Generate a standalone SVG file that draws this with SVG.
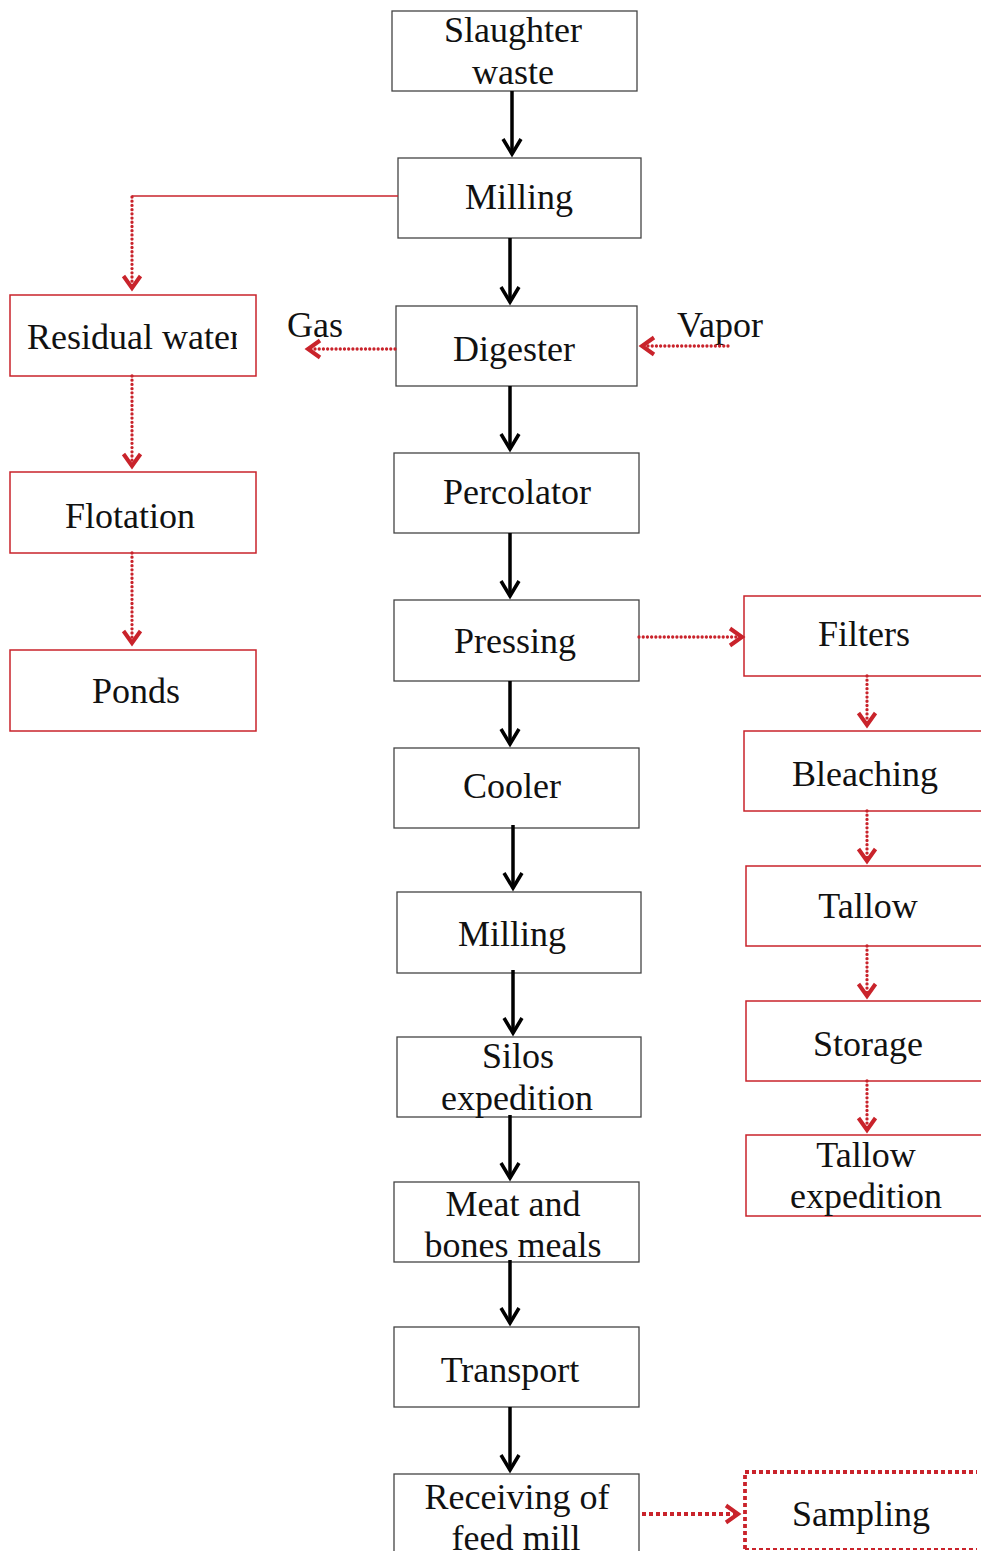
<svg xmlns="http://www.w3.org/2000/svg" width="981" height="1551" viewBox="0 0 981 1551">
<style>
.box{fill:#fff;stroke:#444;stroke-width:1.3}
.rbox{fill:#fff;stroke:#c9232b;stroke-width:1.5}
.t{font-family:"Liberation Serif","Times New Roman",serif;font-size:36px;fill:#111;text-anchor:middle}
.arr{stroke:#000;stroke-width:3.5;fill:none;marker-end:url(#ah)}
.rarr{stroke:#c9232b;stroke-width:3.3;stroke-dasharray:0.01 4.2;stroke-linecap:round;fill:none;marker-end:url(#rah)}
.rline{stroke:#c9232b;stroke-width:1.5;fill:none}
.sq{stroke:#c9232b;stroke-width:4;stroke-dasharray:4 3;fill:none}
</style>
<defs>
<marker id="ah" markerUnits="userSpaceOnUse" orient="auto" refX="0" refY="0" markerWidth="20" markerHeight="20" overflow="visible">
<path d="M-15,-9 L0,0 L-15,9" fill="none" stroke="#000" stroke-width="3.5"/>
</marker>
<marker id="rah" markerUnits="userSpaceOnUse" orient="auto" refX="0" refY="0" markerWidth="20" markerHeight="20" overflow="visible">
<path d="M-12,-8.5 L0,0 L-12,8.5" fill="none" stroke="#c9232b" stroke-width="4"/>
</marker>
<clipPath id="rwclip"><rect x="10" y="295" width="227" height="81"/></clipPath>
</defs>

<g id="n-slaughter"><rect class="box" x="392" y="11" width="245" height="80"/><text class="t" x="513" y="42">Slaughter</text><text class="t" x="513" y="84">waste</text></g>
<g id="n-milling1"><rect class="box" x="398" y="158" width="243" height="80"/><text class="t" x="519" y="209">Milling</text></g>
<g id="n-digester"><rect class="box" x="396" y="306" width="241" height="80"/><text class="t" x="514" y="361">Digester</text></g>
<g id="n-percolator"><rect class="box" x="394" y="453" width="245" height="80"/><text class="t" x="517" y="504">Percolator</text></g>
<g id="n-pressing"><rect class="box" x="394" y="600" width="245" height="81"/><text class="t" x="515" y="653">Pressing</text></g>
<g id="n-cooler"><rect class="box" x="394" y="748" width="245" height="80"/><text class="t" x="512" y="798">Cooler</text></g>
<g id="n-milling2"><rect class="box" x="397" y="892" width="244" height="81"/><text class="t" x="512" y="946">Milling</text></g>
<g id="n-silos"><rect class="box" x="397" y="1037" width="244" height="80"/><text class="t" x="518" y="1068">Silos</text><text class="t" x="517" y="1110">expedition</text></g>
<g id="n-meat"><rect class="box" x="394" y="1182" width="245" height="80"/><text class="t" x="513" y="1216">Meat and</text><text class="t" x="513" y="1257">bones meals</text></g>
<g id="n-transport"><rect class="box" x="394" y="1327" width="245" height="80"/><text class="t" x="510" y="1382">Transport</text></g>
<g id="n-receiving"><rect class="box" x="394" y="1474" width="245" height="90"/><text class="t" x="517" y="1509">Receiving of</text><text class="t" x="516" y="1550">feed mill</text></g>

<g id="n-residual"><rect class="rbox" x="10" y="295" width="246" height="81"/><text class="t" x="27" y="349" style="text-anchor:start" clip-path="url(#rwclip)">Residual water</text></g>
<g id="n-flotation"><rect class="rbox" x="10" y="472" width="246" height="81"/><text class="t" x="130" y="528">Flotation</text></g>
<g id="n-ponds"><rect class="rbox" x="10" y="650" width="246" height="81"/><text class="t" x="136" y="703">Ponds</text></g>

<g id="n-gas"><text class="t" x="315" y="337">Gas</text></g>
<g id="n-vapor"><text class="t" x="720" y="337">Vapor</text></g>

<g id="n-filters"><rect class="rbox" x="744" y="596" width="260" height="80"/><text class="t" x="864" y="646">Filters</text></g>
<g id="n-bleaching"><rect class="rbox" x="744" y="731" width="260" height="80"/><text class="t" x="865" y="786">Bleaching</text></g>
<g id="n-tallow"><rect class="rbox" x="746" y="866" width="260" height="80"/><text class="t" x="868" y="918">Tallow</text></g>
<g id="n-storage"><rect class="rbox" x="746" y="1001" width="260" height="80"/><text class="t" x="868" y="1056">Storage</text></g>
<g id="n-tallowexp"><rect class="rbox" x="746" y="1135" width="260" height="81"/><text class="t" x="866" y="1167">Tallow</text><text class="t" x="866" y="1208">expedition</text></g>
<g id="n-sampling"><path class="sq" d="M745,1549 L745,1472 L977,1472" style="stroke-width:3.8"/><line class="sq" x1="745" y1="1549" x2="977" y2="1549" style="stroke-width:2"/><text class="t" x="861" y="1526">Sampling</text></g>

<g id="connectors">
<line class="arr" x1="512" y1="91" x2="512" y2="154"/>
<line class="arr" x1="510" y1="238" x2="510" y2="302"/>
<line class="arr" x1="510" y1="386" x2="510" y2="449"/>
<line class="arr" x1="510" y1="533" x2="510" y2="596"/>
<line class="arr" x1="510" y1="681" x2="510" y2="744"/>
<line class="arr" x1="513" y1="825" x2="513" y2="888"/>
<line class="arr" x1="513" y1="970" x2="513" y2="1033"/>
<line class="arr" x1="510" y1="1115" x2="510" y2="1178"/>
<line class="arr" x1="510" y1="1260" x2="510" y2="1323"/>
<line class="arr" x1="510" y1="1407" x2="510" y2="1470"/>

<line class="rline" x1="398" y1="196" x2="132" y2="196"/>
<line class="rarr" x1="132" y1="197" x2="132" y2="288"/>
<line class="rarr" x1="132" y1="376" x2="132" y2="466"/>
<line class="rarr" x1="132" y1="553" x2="132" y2="643"/>
<line class="rarr" x1="395" y1="349" x2="308" y2="349"/>
<line class="rarr" x1="728" y1="346" x2="642" y2="346"/>
<line class="rarr" x1="639" y1="637" x2="742" y2="637"/>
<line class="rarr" x1="867" y1="676" x2="867" y2="725"/>
<line class="rarr" x1="867" y1="811" x2="867" y2="861"/>
<line class="rarr" x1="867" y1="946" x2="867" y2="996"/>
<line class="rarr" x1="867" y1="1081" x2="867" y2="1130"/>
<line class="sq" x1="642" y1="1514" x2="738" y2="1514" marker-end="url(#rah)"/>
</g>
</svg>
